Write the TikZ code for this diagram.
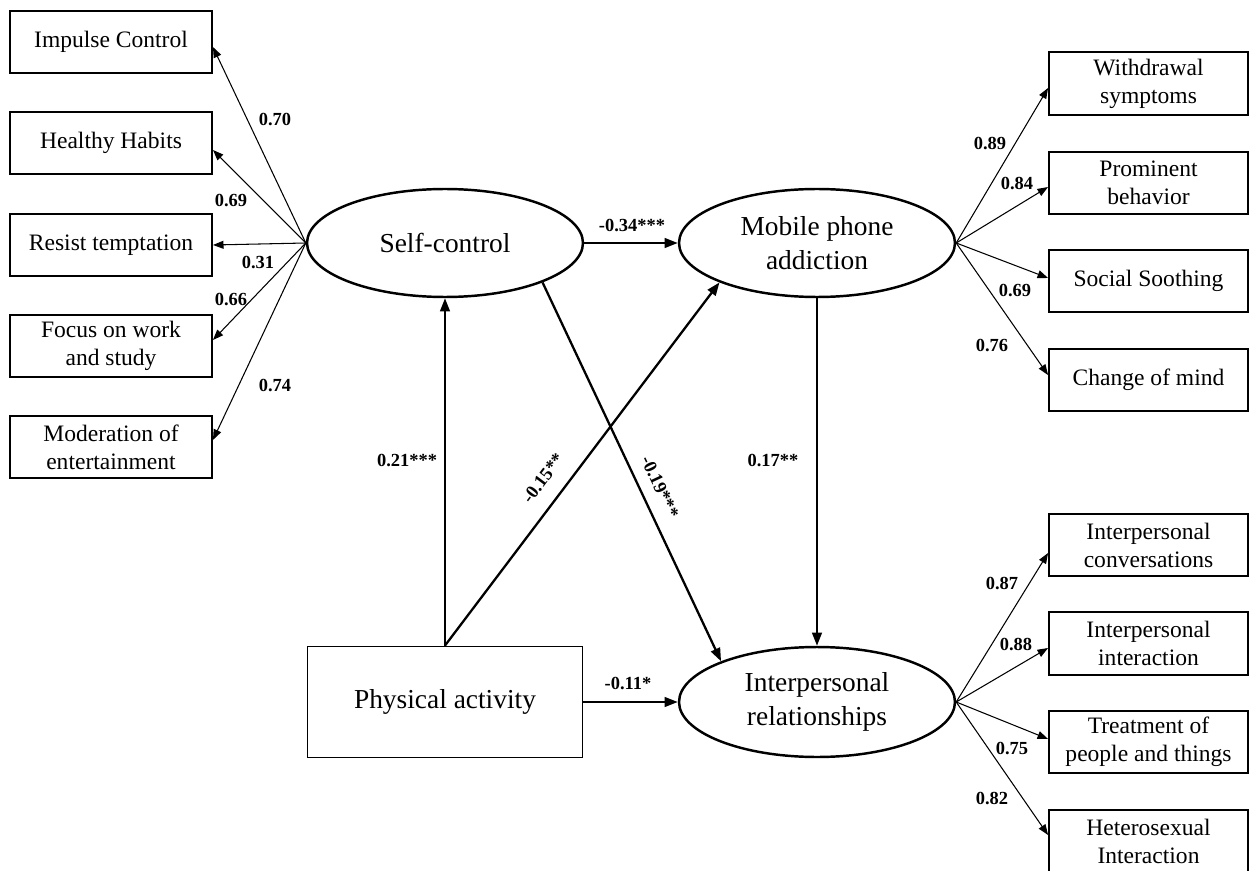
\documentclass[tikz,border=0pt]{standalone}
\usepackage{fontspec}
\setmainfont{Liberation Serif}
\usetikzlibrary{shapes.geometric,arrows.meta,calc}
\begin{document}
\begin{tikzpicture}[x=0.02cm,y=-0.02cm,
 ind/.style={draw, line width=1.1pt, minimum width=4.04cm, minimum height=1.25cm, inner sep=0pt, align=center, font=\fontsize{13.4}{15.9}\selectfont},
 indr/.style={ind, minimum width=3.98cm},
 lat/.style={ellipse, draw, line width=1.4pt, minimum width=5.52cm, minimum height=2.16cm, inner sep=0pt, align=center, font=\fontsize{15.6}{19.3}\selectfont},
 obs/.style={draw, line width=1.1pt, minimum width=5.5cm, minimum height=2.22cm, inner sep=0pt, font=\fontsize{15.6}{19.3}\selectfont},
 lab/.style={font=\bfseries\fontsize{10.5}{12}\selectfont, inner sep=0pt},
 fan/.style={line width=0.6pt, -{Triangle[length=6pt,width=4.5pt]}},
 mainarr/.style={line width=1.3pt, -{Triangle[length=7.5pt,width=5.5pt]}},
]
\useasboundingbox (0,0) rectangle (1250,871);
\clip (0,0) rectangle (1250,871);

% left indicators
\node[ind] (imp) at (111,42) {Impulse Control};
\node[ind] (hab) at (111,143) {Healthy Habits};
\node[ind] (res) at (111,245) {Resist temptation};
\node[ind] (foc) at (111,346) {Focus on work\\and study};
\node[ind] (mod) at (111,447) {Moderation of\\entertainment};

% latent variables
\node[lat] (self) at (445,243) {Self-control};
\node[lat] (mob) at (817,243) {Mobile phone\\addiction};
\node[lat, minimum height=2.2cm] (inter) at (817,702) {Interpersonal\\relationships};
\node[obs] (phys) at (445,702) {Physical activity};

% right indicators top
\node[indr] (wd) at (1148.5,83.5) {Withdrawal\\symptoms};
\node[indr] (pb) at (1148.5,183) {Prominent\\behavior};
\node[indr] (ss) at (1148.5,281) {Social Soothing};
\node[indr] (cm) at (1148.5,380) {Change of mind};

% right indicators bottom
\node[indr] (ic) at (1148.5,545) {Interpersonal\\conversations};
\node[indr] (ii) at (1148.5,643.5) {Interpersonal\\interaction};
\node[indr] (tp) at (1148.5,742) {Treatment of\\people and things};
\node[indr] (hi) at (1148.5,841.5) {Heterosexual\\Interaction};

% left fan
\draw[fan] (self.west) -- ($(imp.east)+(0,5)$);
\draw[fan] (self.west) -- ($(hab.east)+(0,7)$);
\draw[fan] (self.west) -- (res.east);
\draw[fan] (self.west) -- ($(foc.east)+(0,-6)$);
\draw[fan] (self.west) -- ($(mod.east)+(0,-7)$);
\node[lab] (l70) at (275,120) {0.70};
\node[lab] (l69a) at (231,200) {0.69};
\node[lab] (l31) at (258,262) {0.31};
\node[lab] (l66) at (231,299) {0.66};
\node[lab] (l74) at (275,385) {0.74};

% right top fan
\draw[fan] (mob.east) -- ($(wd.west)+(0,4.5)$);
\draw[fan] (mob.east) -- ($(pb.west)+(0,4)$);
\draw[fan] (mob.east) -- ($(ss.west)+(0,-3)$);
\draw[fan] (mob.east) -- ($(cm.west)+(0,-5)$);
\node[lab] (l89) at (990,143) {0.89};
\node[lab] (l84) at (1017,183) {0.84};
\node[lab] (l69b) at (1015,290) {0.69};
\node[lab] (l76) at (992,345) {0.76};

% right bottom fan
\draw[fan] (inter.east) -- ($(ic.west)+(0,8)$);
\draw[fan] (inter.east) -- ($(ii.west)+(0,4.5)$);
\draw[fan] (inter.east) -- ($(tp.west)+(0,-3)$);
\draw[fan] (inter.east) -- ($(hi.west)+(0,-6.5)$);
\node[lab] (l87) at (1002,583) {0.87};
\node[lab] (l88) at (1016,644) {0.88};
\node[lab] (l75) at (1012,748) {0.75};
\node[lab] (l82) at (992,798) {0.82};

% structural paths
\draw[mainarr] (self.east) -- (mob.west);
\draw[mainarr] (phys.north) -- (self.south);
\draw[mainarr] (phys.north) -- (mob.-158);
\draw[mainarr] (self.-22) -- (inter.157);
\draw[mainarr] (mob.south) -- (inter.north);
\draw[mainarr] (phys.east) -- (inter.west);

\node[lab] (b34) at (632,225) {-0.34***};
\node[lab] (b21) at (407,460) {0.21***};
\node[lab, rotate=53] (b15) at (543,478) {-0.15**};
\node[lab, rotate=-65] (b19) at (660,487) {-0.19***};
\node[lab] (b17) at (773,460) {0.17**};
\node[lab] (b11) at (628,683) {-0.11*};
\end{tikzpicture}
\end{document}
